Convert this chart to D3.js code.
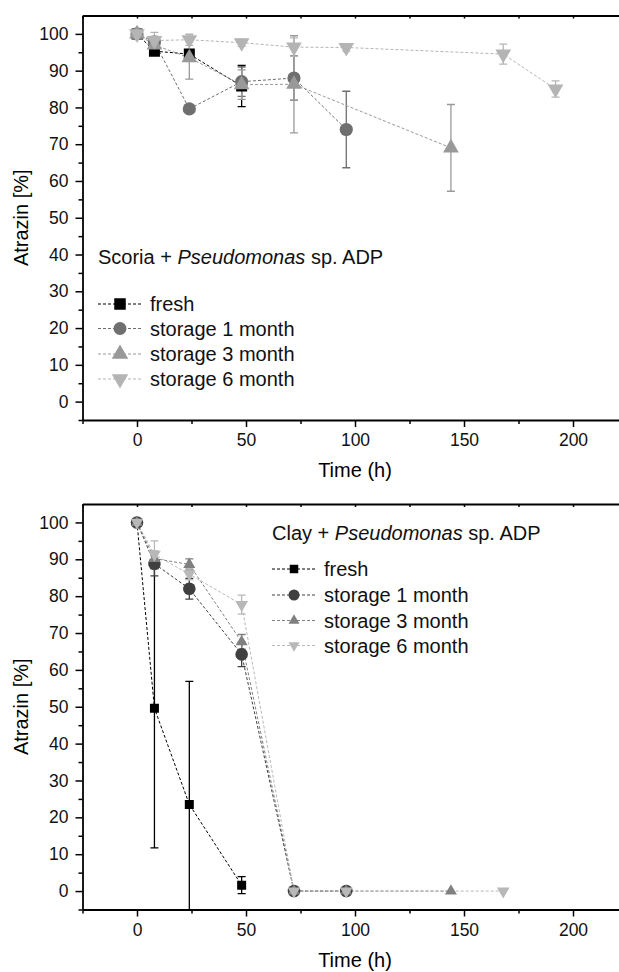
<!DOCTYPE html>
<html>
<head>
<meta charset="utf-8">
<script src="https://cdn.jsdelivr.net/npm/d3@7"></script>
<style>
  body { margin: 0; background: #fff; }
  svg { display: block; font-family: "Liberation Sans", Arial, sans-serif; }
</style>
</head>
<body>
<div id="chart"></div>
<script>
// --- data ---
const seriesNames = ["fresh", "storage 1 month", "storage 3 month", "storage 6 month"];

// Scoria panel
const scoriaFreshT = [0, 8, 24, 48];
const scoriaFreshV = [100, 95.3, 94.5, 85.8];
const scoriaFreshE = [0.5, 1, 1.2, 5.6];

const scoria1mT = [0, 8, 24, 48, 72, 96];
const scoria1mV = [100, 97.8, 79.6, 87, 88, 74];
const scoria1mE = [0.5, 1.5, 0, 4, 6, 10.4];

const scoria3mT = [0, 8, 24, 48, 72, 144];
const scoria3mV = [100, 97, 93.5, 86.2, 86.3, 69];
const scoria3mE = [0.5, 1.5, 5.8, 4, 13.2, 11.8];

const scoria6mT = [0, 8, 24, 48, 72, 96, 168, 192];
const scoria6mV = [100, 98.2, 98.4, 97.6, 96.4, 96.3, 94.5, 85];
const scoria6mE = [0.5, 2.2, 1.5, 1, 2.5, 1, 2.7, 2.2];

// Clay panel
const clayFreshT = [0, 8, 24, 48];
const clayFreshV = [100, 49.6, 23.5, 1.6];
const clayFreshE = [0.3, 37.9, 33.4, 2.3];

const clay1mT = [0, 8, 24, 48, 72, 96];
const clay1mV = [100, 88.8, 82, 64.2, 0, 0];
const clay1mE = [0.3, 3.3, 2.8, 3.3, 0, 0];

const clay3mT = [0, 8, 24, 48, 72, 96, 144];
const clay3mV = [100, 90.2, 88.6, 67.6, 0, 0, 0];
const clay3mE = [0.3, 2, 1.5, 2, 0, 0, 0];

const clay6mT = [0, 8, 24, 48, 72, 96, 168];
const clay6mV = [100, 91.3, 86, 77.7, 0, 0, 0];
const clay6mE = [0.3, 3.7, 1.5, 2.6, 0, 0, 0];

const xMajorTicks = [0, 50, 100, 150, 200];
const yMajorTicks = [0, 10, 20, 30, 40, 50, 60, 70, 80, 90, 100];

const zip = (t, v, e) => t.map((d, i) => ({ t: d, v: v[i], e: e[i] }));

const W = 619, H = 972;
const svg = d3.select("#chart").append("svg")
    .attr("width", W)
    .attr("height", H);

// symbol generators
const tri = d3.symbol().type(d3.symbolTriangle);

function drawPanel(cfg) {
    const g = svg.append("g");
    const x = d3.scaleLinear().domain([-25, 225]).range([82.5, 627.5]);
    const y = d3.scaleLinear().domain([-5, 105]).range([cfg.bottom, cfg.top]);

    const clipId = "clip" + cfg.id;
    g.append("clipPath").attr("id", clipId)
        .append("rect")
        .attr("x", x(-25)).attr("y", y(105))
        .attr("width", x(225) - x(-25)).attr("height", y(-5) - y(105));

    // axes: major + minor
    const yAxis = g.append("g")
        .attr("transform", `translate(${x(-25)},0)`)
        .call(d3.axisLeft(y).tickValues(yMajorTicks).tickSize(7).tickPadding(7).tickSizeOuter(0));
    g.append("g")
        .attr("transform", `translate(${x(-25)},0)`)
        .call(d3.axisLeft(y).tickValues(d3.range(-5, 105, 10)).tickSize(4).tickFormat("").tickSizeOuter(0))
        .select(".domain").remove();

    const xAxis = g.append("g")
        .attr("transform", `translate(0,${y(-5)})`)
        .call(d3.axisBottom(x).tickValues(xMajorTicks).tickSize(7).tickPadding(7).tickSizeOuter(0));
    g.append("g")
        .attr("transform", `translate(0,${y(-5)})`)
        .call(d3.axisBottom(x).tickValues([-25, 25, 75, 125, 175]).tickSize(4).tickFormat("").tickSizeOuter(0))
        .select(".domain").remove();

    // top frame with small inward ticks
    g.append("g")
        .attr("transform", `translate(0,${y(105)})`)
        .call(d3.axisTop(x).tickValues(d3.range(-25, 226, 25)).tickSize(-3).tickFormat("").tickSizeOuter(0));

    g.selectAll(".domain").attr("stroke-width", 1.8);
    g.selectAll(".tick line").attr("stroke-width", 1.5);
    g.selectAll(".tick text").attr("font-size", 17.5).attr("fill", "#111")
        .attr("font-family", "Liberation Sans, Arial, sans-serif");

    // axis titles
    g.append("text")
        .attr("x", 355).attr("y", cfg.bottom + 57)
        .attr("text-anchor", "middle").attr("font-size", 20)
        .text("Time (h)");
    g.append("text")
        .attr("transform", `translate(21,${(cfg.top + cfg.bottom) / 2}) rotate(-90)`)
        .attr("text-anchor", "middle").attr("dy", "0.35em").attr("font-size", 20)
        .text("Atrazin [%]");

    const plot = g.append("g").attr("clip-path", `url(#${clipId})`);
    const line = d3.line().x(d => x(d.t)).y(d => y(d.v));

    cfg.series.forEach(s => {
        // dashed connecting line
        plot.append("path")
            .datum(s.data)
            .attr("d", line)
            .attr("fill", "none")
            .attr("stroke", s.lineColor)
            .attr("stroke-width", 1)
            .attr("stroke-dasharray", "3,2");
        // error bars
        const eb = plot.append("g").attr("stroke", s.color).attr("stroke-width", 1.3);
        s.data.filter(d => d.e > 0.6).forEach(d => {
            eb.append("line").attr("x1", x(d.t)).attr("x2", x(d.t))
                .attr("y1", y(d.v + d.e)).attr("y2", y(d.v - d.e));
            [d.v + d.e, d.v - d.e].forEach(v => {
                eb.append("line").attr("x1", x(d.t) - 4).attr("x2", x(d.t) + 4)
                    .attr("y1", y(v)).attr("y2", y(v));
            });
        });
    });
    cfg.series.forEach(s => {
        plot.append("g").selectAll("path")
            .data(s.data)
            .join("path")
            .attr("d", s.symbol)
            .attr("transform", d => `translate(${x(d.t)},${y(d.v)})` + (s.flip ? " rotate(180)" : ""))
            .attr("fill", s.color);
    });

    // title and legend
    const tl = g.append("text")
        .attr("x", cfg.legendX).attr("y", cfg.titleY)
        .attr("dy", "0.35em").attr("font-size", 20).attr("fill", "#111");
    tl.append("tspan").text(cfg.title + " + ");
    tl.append("tspan").attr("font-style", "italic").text("Pseudomonas");
    tl.append("tspan").text(" sp. ADP");

    cfg.series.forEach((s, i) => {
        const ly = cfg.legendY[i];
        const lg = g.append("g");
        lg.append("line")
            .attr("x1", cfg.legendX).attr("x2", cfg.legendX + 45)
            .attr("y1", ly).attr("y2", ly)
            .attr("stroke", s.lineColor).attr("stroke-width", 1).attr("stroke-dasharray", "3,2");
        lg.append("path")
            .attr("d", s.legendSymbol)
            .attr("transform", `translate(${cfg.legendX + 22},${ly})` + (s.flip ? " rotate(180)" : ""))
            .attr("fill", s.color);
        lg.append("text")
            .attr("x", cfg.legendX + 52).attr("y", ly)
            .attr("dy", "0.35em").attr("font-size", 20).attr("fill", "#111")
            .text(seriesNames[i]);
    });
}

const sq = s => d3.symbol().type(d3.symbolSquare).size(s * s)();
const ci = r => d3.symbol().type(d3.symbolCircle).size(Math.PI * r * r)();
const tr = w => tri.size(Math.sqrt(3) / 4 * w * w)();

drawPanel({
    id: "top", top: 15.5, bottom: 420,
    title: "Scoria", legendX: 98, titleY: 257, legendY: [304, 328.5, 354, 379],
    series: [
        { data: zip(scoriaFreshT, scoriaFreshV, scoriaFreshE), color: "#000", lineColor: "#000", symbol: sq(11), legendSymbol: sq(11.5) },
        { data: zip(scoria1mT, scoria1mV, scoria1mE), color: "#6f6f6f", lineColor: "#6f6f6f", symbol: ci(6.6), legendSymbol: ci(6.5) },
        { data: zip(scoria3mT, scoria3mV, scoria3mE), color: "#999999", lineColor: "#999999", symbol: tr(15.7), legendSymbol: tr(16.5) },
        { data: zip(scoria6mT, scoria6mV, scoria6mE), color: "#b4b4b4", lineColor: "#b4b4b4", symbol: tr(15.7), legendSymbol: tr(16.5), flip: true }
    ]
});

drawPanel({
    id: "bot", top: 504, bottom: 909.5,
    title: "Clay", legendX: 272, titleY: 533, legendY: [569, 595, 620.5, 645.5],
    series: [
        { data: zip(clayFreshT, clayFreshV, clayFreshE), color: "#000", lineColor: "#000", symbol: sq(9), legendSymbol: sq(8.5) },
        { data: zip(clay1mT, clay1mV, clay1mE), color: "#404040", lineColor: "#404040", symbol: ci(6.3), legendSymbol: ci(5.5) },
        { data: zip(clay3mT, clay3mV, clay3mE), color: "#808080", lineColor: "#808080", symbol: tr(12), legendSymbol: tr(11) },
        { data: zip(clay6mT, clay6mV, clay6mE), color: "#b8b8b8", lineColor: "#b8b8b8", symbol: tr(12.7), legendSymbol: tr(11), flip: true }
    ]
});
</script>
</body>
</html>
